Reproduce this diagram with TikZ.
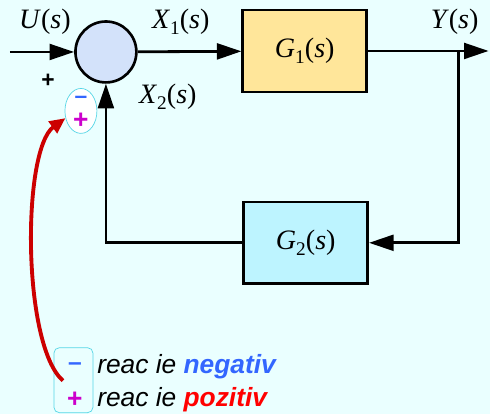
\documentclass[tikz,border=0pt]{standalone}
\usepackage{fontspec}
\setmainfont{Liberation Serif}
\setsansfont{Liberation Sans}
\usepackage{tikz}
\usetikzlibrary{arrows.meta,calc,positioning,shapes.geometric}
\usepackage{xcolor}

\definecolor{bgcyan}{HTML}{EAFFFF}
\definecolor{sumblue}{HTML}{D3E2FA}
\definecolor{gonefill}{HTML}{FFE69A}
\definecolor{gtwofill}{HTML}{BDF4FF}
\definecolor{signblue}{HTML}{3366FF}
\definecolor{signmag}{HTML}{CC00CC}
\definecolor{arcred}{HTML}{CC0000}
\definecolor{rimcyan}{HTML}{55D6E6}

% signal label: letter, index, (s)
\newcommand{\sig}[2]{\textit{#1}\raisebox{-0.45ex}{\fontsize{11}{12}\selectfont #2}(\textit{s})}

\tikzset{
  block/.style={draw,line width=1.5pt,minimum width=2.48cm,minimum height=1.64cm,
    font=\fontsize{16}{18}\selectfont},
  lbl/.style={font=\fontsize{16}{18}\selectfont,inner sep=0pt},
  wire/.style={line width=1.6pt,-{Triangle[length=14pt,width=9pt]}},
  legtext/.style={anchor=west,inner sep=0pt,font=\sffamily\itshape\fontsize{15}{17}\selectfont}
}

\begin{document}
\begin{tikzpicture}[x=0.02cm,y=-0.02cm]

\fill[bgcyan] (0,0) rectangle (490,414);

% blocks
\node[circle,draw,line width=1.5pt,fill=sumblue,minimum size=1.22cm] (sum) at (106,52) {};
\node[block,fill=gonefill] (G1) at (305,51) {\sig{G}{1}};
\node[block,fill=gtwofill] (G2) at (306,243) {\sig{G}{2}};

\coordinate (in) at (10,52);
\coordinate (out) at (489,51);
\coordinate (branch) at (459,51);

% signals
\draw[wire] (in) -- (sum);
\draw[wire] (sum) -- (G1);
\draw[line width=1.6pt] (G1.east) -- (branch);
\draw[wire] (branch) -- (out);
\draw[wire] (branch) |- (G2.east);
\draw[wire] (G2.west) -| (sum.south);

\node[lbl] (Ulbl) at (45,22) {\sig{U}{}};
\node[lbl] (X1lbl) at (181,22) {\sig{X}{1}};
\node[lbl] (Ylbl) at (455,22) {\sig{Y}{}};
\node[lbl] (X2lbl) at (168,97) {\sig{X}{2}};
\node[font=\sffamily\bfseries\fontsize{13}{14}\selectfont,inner sep=0pt] (plus) at (48,81) {+};

% sign of the feedback
\node[ellipse,draw=rimcyan,fill=white,minimum width=0.64cm,minimum height=0.9cm,inner sep=0pt] (sign) at (81,111) {};
\node[text=signblue,font=\sffamily\bfseries\fontsize{13}{14}\selectfont,inner sep=0pt] (signm) at (81,100) {--};
\node[text=signmag,font=\sffamily\bfseries\fontsize{15}{16}\selectfont,inner sep=0pt] (signp) at (81,121) {+};

% legend
\node[draw=rimcyan,rounded corners=3pt,minimum width=0.78cm,minimum height=1.3cm] (legbox) at (73.5,380.5) {};
\node[text=signblue,font=\sffamily\bfseries\fontsize{14}{15}\selectfont,inner sep=0pt] (legm) at (75,367) {--};
\node[text=signmag,font=\sffamily\bfseries\fontsize{15}{16}\selectfont,inner sep=0pt] (legp) at (75,400) {+};
\node[legtext] (negtxt) at (97,367) {reac ie \textcolor{signblue}{\bfseries negativ}};
\node[legtext] (postxt) at (97,400) {reac ie \textcolor{red}{\bfseries pozitiv}};

\coordinate (arcfoot) at (63,381);
\draw[arcred,line width=2.2pt,-{Triangle[length=9pt,width=8pt]}]
  (arcfoot) .. controls (22,345) and (22,150) .. (sign.205);

\end{tikzpicture}
\end{document}
